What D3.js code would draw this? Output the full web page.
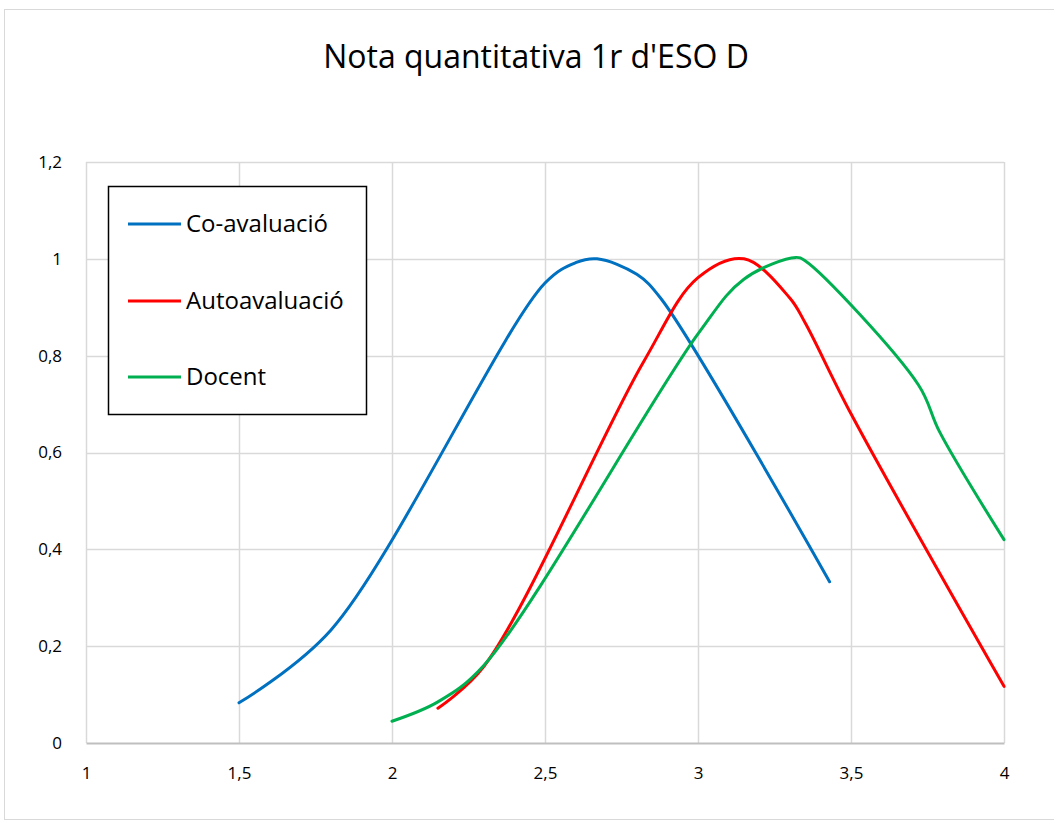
<!DOCTYPE html>
<html><head><meta charset="utf-8">
<script src="https://cdn.jsdelivr.net/npm/d3@7"></script>
<style>
html,body{margin:0;padding:0;background:#fff;}
svg{display:block;font-family:"Open Sans","Noto Sans",sans-serif;}
</style></head>
<body>
<svg id="chart" width="1054" height="825"></svg>
<script>
const title = "Nota quantitativa 1r d'ESO D";
const seriesNames = ["Co-avaluació", "Autoavaluació", "Docent"];
const seriesColors = ["#0070C0", "#FF0000", "#00B050"];
const xTicks = [1, 1.5, 2, 2.5, 3, 3.5, 4];
const yTicks = [0, 0.2, 0.4, 0.6, 0.8, 1, 1.2];

const coX = [1.5, 1.8, 2.5, 2.6, 2.67, 2.8, 2.88, 3.43];
const coY = [0.083, 0.233, 0.95, 0.992, 1.0, 0.968, 0.917, 0.333];
const autoX = [2.15, 2.3, 2.82, 3.0, 3.15, 3.3, 3.35, 3.5, 4.0];
const autoY = [0.072, 0.158, 0.785, 0.961, 1.0, 0.919, 0.868, 0.68, 0.117];
const docX = [2.0, 2.15, 2.3, 3.0, 3.15, 3.32, 3.35, 3.72, 3.79, 4.0];
const docY = [0.045, 0.085, 0.16, 0.845, 0.958, 1.003, 0.996, 0.74, 0.642, 0.42];

const seriesX = [coX, autoX, docX];
const seriesY = [coY, autoY, docY];

const svg = d3.select("#chart");
const W = 1054, H = 825;
const m = {left: 86, right: 1004, top: 162, bottom: 743};

const loc = d3.formatLocale({decimal: ",", thousands: ".", grouping: [3], currency: ["", "€"]});
const fmt = loc.format(".1~f");

const x = d3.scaleLinear().domain([1, 4]).range([m.left, m.right]);
const y = d3.scaleLinear().domain([0, 1.2]).range([m.bottom, m.top]);

// outer border
svg.append("rect").attr("x", 4.5).attr("y", 9.5).attr("width", W + 10).attr("height", H - 15)
  .attr("fill", "#fff").attr("stroke", "#D9D9D9").attr("stroke-width", 1);

// title
svg.append("text").attr("x", 536).attr("y", 68).attr("text-anchor", "middle")
  .attr("font-size", 32).attr("fill", "#000").text(title);

// gridlines
const grid = svg.append("g");
grid.selectAll("line.h").data(yTicks.filter(d => d > 0)).join("line")
  .attr("x1", m.left).attr("x2", m.right)
  .attr("y1", d => Math.round(y(d)) + 0.5).attr("y2", d => Math.round(y(d)) + 0.5)
  .attr("stroke", "#D9D9D9").attr("stroke-width", 1.5);
grid.selectAll("line.v").data(xTicks).join("line")
  .attr("y1", m.top).attr("y2", m.bottom)
  .attr("x1", d => Math.round(x(d)) + 0.5).attr("x2", d => Math.round(x(d)) + 0.5)
  .attr("stroke", "#D9D9D9").attr("stroke-width", 1.5);

// x axis
const xAxis = d3.axisBottom(x).tickValues(xTicks).tickFormat(fmt).tickSize(0).tickPadding(24);
const gx = svg.append("g").attr("transform", `translate(0,${m.bottom})`).call(xAxis);
gx.select(".domain").attr("stroke", "#BFBFBF").attr("stroke-width", 2);
gx.selectAll("text").attr("font-size", 17).attr("fill", "#000").attr("font-family", "Open Sans");

// y axis
const yAxis = d3.axisLeft(y).tickValues(yTicks).tickFormat(fmt).tickSize(0).tickPadding(24);
const gy = svg.append("g").attr("transform", `translate(${m.left},0)`).call(yAxis);
gy.select(".domain").remove();
gy.selectAll("text").attr("font-size", 17).attr("fill", "#000").attr("font-family", "Open Sans");

// lines
const line = d3.line().x(d => x(d[0])).y(d => y(d[1])).curve(d3.curveCatmullRom.alpha(0.5));
seriesX.forEach((xs, i) => {
  const pts = xs.map((v, j) => [v, seriesY[i][j]]);
  svg.append("path").datum(pts).attr("d", line)
    .attr("fill", "none").attr("stroke", seriesColors[i]).attr("stroke-width", 3)
    .attr("stroke-linecap", "round").attr("stroke-linejoin", "round");
});

// legend
const lg = svg.append("g");
lg.append("rect").attr("x", 108.5).attr("y", 186.5).attr("width", 258).attr("height", 228)
  .attr("fill", "#fff").attr("stroke", "#000").attr("stroke-width", 1.5);
const rowsY = [224, 301, 377];
seriesNames.forEach((n, i) => {
  lg.append("line").attr("x1", 128).attr("x2", 181).attr("y1", rowsY[i]).attr("y2", rowsY[i])
    .attr("stroke", seriesColors[i]).attr("stroke-width", 3);
  lg.append("text").attr("x", 186).attr("y", rowsY[i]).attr("dy", "0.35em")
    .attr("font-size", 24).attr("fill", "#000").text(n);
});
</script>
</body></html>
